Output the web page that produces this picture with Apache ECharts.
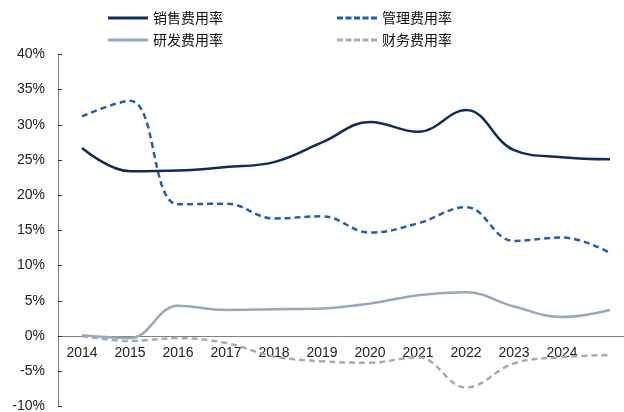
<!DOCTYPE html>
<html>
<head>
<meta charset="utf-8">
<script src="https://cdn.jsdelivr.net/npm/echarts@6/dist/echarts.min.js"></script>
<style>html,body{margin:0;padding:0;background:#fff}#c{width:624px;height:412px}</style>
</head>
<body>
<div id="c"></div>
<script>
const categories = ['2014','2015','2016','2017','2018','2019','2020','2021','2022','2023','2024',''];
const salesRate = [26.7, 23.4, 23.5, 24.0, 24.7, 27.5, 30.4, 29.0, 32.1, 26.4, 25.4, 25.1];
const adminRate = [31.2, 33.4, 18.7, 18.8, 16.7, 17.0, 14.7, 16.0, 18.3, 13.5, 14.0, 11.8];
const rdRate = [0.1, -0.3, 4.3, 3.7, 3.8, 3.9, 4.6, 5.8, 6.2, 4.2, 2.7, 3.7];
const finRate = [0.0, -0.7, -0.3, -1.0, -2.9, -3.6, -3.8, -3.0, -7.3, -3.9, -3.0, -2.7];
const yTicks = {min: -10, max: 40, interval: 5};

const gridTop = 54.4, gridBottom = 5.6, chartH = 412;
const plotH = chartH - gridTop - gridBottom;
const zeroOffset = plotH * (0 - yTicks.min) / (yTicks.max - yTicks.min);

const chart = echarts.init(document.getElementById('c'), null, {renderer: 'canvas'});
const font = '"Liberation Sans", Arial, sans-serif';
const legendText = {fontSize: 14, color: '#111', fontFamily: '"Noto Sans CJK SC", sans-serif'};
const solidIcon = 'path://M0,0h40v3h-40z';
const dashIcon = 'path://M0,0h6v3h-6z M8.5,0h6v3h-6z M17,0h6v3h-6z M25.5,0h6v3h-6z M34,0h6v3h-6z';
chart.setOption({
  animation: false,
  backgroundColor: '#fff',
  legend: [
    {data: [{name: '销售费用率', icon: solidIcon}, {name: '管理费用率', icon: dashIcon}], left: 108, top: 11, padding: 0, itemWidth: 40, itemHeight: 3, itemGap: 114, textStyle: legendText},
    {data: [{name: '研发费用率', icon: solidIcon}, {name: '财务费用率', icon: dashIcon}], left: 108, top: 33, padding: 0, itemWidth: 40, itemHeight: 3, itemGap: 114, textStyle: legendText}
  ],
  grid: {left: 58, top: gridTop, width: 576, bottom: gridBottom, containLabel: false, outerBoundsMode: 'none'},
  xAxis: {
    type: 'category',
    data: categories,
    boundaryGap: true,
    offset: -zeroOffset,
    axisLine: {onZero: false, lineStyle: {color: '#808080', width: 1}},
    axisTick: {inside: true, length: 4, lineStyle: {color: '#333'}},
    axisLabel: {fontSize: 14, color: '#222', fontFamily: font, margin: 10}
  },
  yAxis: {
    type: 'value',
    min: yTicks.min, max: yTicks.max, interval: yTicks.interval,
    axisLine: {show: true, lineStyle: {color: '#808080'}},
    axisTick: {show: true, inside: true, length: 4, lineStyle: {color: '#333'}},
    splitLine: {show: false},
    axisLabel: {formatter: '{value}%', fontSize: 14, color: '#222', fontFamily: font, margin: 13}
  },
  series: [
    {name: '销售费用率', type: 'line', data: salesRate, smooth: 0.4, symbol: 'none', lineStyle: {color: '#0f2d57', width: 2.5}, itemStyle: {color: '#0f2d57'}, z: 4},
    {name: '管理费用率', type: 'line', data: adminRate, smooth: 0.4, symbol: 'none', lineStyle: {color: '#1f5fb4', width: 2.5, type: [6, 4]}, itemStyle: {color: '#1f5fb4'}, z: 3},
    {name: '研发费用率', type: 'line', data: rdRate, smooth: 0.4, symbol: 'none', lineStyle: {color: '#97a8ba', width: 2.5}, itemStyle: {color: '#97a8ba'}, z: 2},
    {name: '财务费用率', type: 'line', data: finRate, smooth: 0.4, symbol: 'none', lineStyle: {color: '#a3acb6', width: 2.5, type: [6, 4]}, itemStyle: {color: '#a3acb6'}, z: 1}
  ]
});
</script>
</body>
</html>
